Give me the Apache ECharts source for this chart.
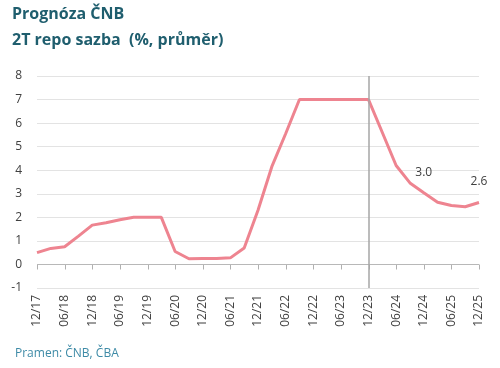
<!DOCTYPE html>
<html><head><meta charset="utf-8">
<script src="https://cdn.jsdelivr.net/npm/echarts@6/dist/echarts.min.js"></script>
<style>html,body{margin:0;padding:0;background:#fff}#c{width:500px;height:368px}</style>
</head><body><div id="c"></div>
<script>
const categories = ['12/17','03/18','06/18','09/18','12/18','03/19','06/19','09/19','12/19','03/20','06/20','09/20','12/20','03/21','06/21','09/21','12/21','03/22','06/22','09/22','12/22','03/23','06/23','09/23','12/23','03/24','06/24','09/24','12/24','03/25','06/25','09/25','12/25'];
const repoRate = [0.5,0.68,0.75,1.2,1.67,1.77,1.9,2.0,2.0,2.0,0.55,0.24,0.25,0.25,0.28,0.7,2.3,4.15,5.55,7.0,7.0,7.0,7.0,7.0,7.0,5.6,4.2,3.46,3.04,2.64,2.5,2.45,2.63];
const labeledPoints = {'12/24':'3.0','12/25':'2.6'};
const tickCategories = ['12/17','06/18','12/18','06/19','12/19','06/20','12/20','06/21','12/21','06/22','12/22','06/23','12/23','06/24','12/24','06/25','12/25'];
const yTicks = [-1,0,1,2,3,4,5,6,7,8];
const dividerCategory = '12/23';
const titleText = 'Prognóza ČNB\n2T repo sazba  (%, průměr)';
const sourceText = 'Pramen: ČNB, ČBA';

const font = '"Open Sans", sans-serif';
const chart = echarts.init(document.getElementById('c'));
chart.setOption({
  animation:false,
  textStyle:{fontFamily:font},
  title:[
    {text:titleText,left:12,top:1,padding:0,textStyle:{fontFamily:font,fontSize:16,fontWeight:'bold',color:'#1f5e6e',lineHeight:26}},
    {text:sourceText,left:15,top:348,padding:0,textStyle:{fontFamily:font,fontSize:12,fontWeight:'normal',color:'#3d8aa6'}}
  ],
  grid:{left:37,right:21,top:76,bottom:80,containLabel:false},
  xAxis:{type:'category',data:categories,boundaryGap:false,position:'bottom',
     axisLine:{show:false,onZero:false},
     axisTick:{show:false},
     splitLine:{show:false},
     axisLabel:{interval:1,rotate:90,color:'#404040',fontSize:12,margin:7,fontFamily:font}},
  yAxis:{type:'value',min:yTicks[0],max:yTicks[yTicks.length-1],interval:1,
    axisLine:{show:false},axisTick:{show:false},
    axisLabel:{color:'#404040',fontSize:12,margin:15,fontFamily:font},
    splitLine:{lineStyle:{color:'#e3e3e3',width:1}}},
  series:[{
    type:'custom',silent:true,z:3,
    data:tickCategories.map(c=>[c,0]),
    renderItem:(params,api)=>{
      const p = api.coord([api.value(0),0]);
      return {type:'line',shape:{x1:Math.round(p[0])+0.5,y1:Math.round(p[1])+0.5,x2:Math.round(p[0])+0.5,y2:Math.round(p[1])+5.5},
        style:{stroke:'#b0b0b0',lineWidth:1}};
    },
    markLine:{silent:true,symbol:'none',label:{show:false},
      lineStyle:{color:'#b8b8b8',width:1,type:'solid'},data:[{yAxis:0}]}
  },{
    type:'line',data:repoRate,showSymbol:true,symbol:'circle',symbolSize:1,z:4,
    lineStyle:{color:'#ee8490',width:3},itemStyle:{color:'rgba(0,0,0,0)'},
    label:{show:true,position:'top',distance:14,color:'#404040',fontSize:12,fontFamily:font,
      formatter:p=>labeledPoints[categories[p.dataIndex]]||''},
    labelLayout:{hideOverlap:false},
    markLine:{silent:true,symbol:'none',label:{show:false},
      lineStyle:{color:'#a6a6a6',width:1.5,type:'solid'},
      data:[{xAxis:dividerCategory}]}
  }]
});
</script></body></html>
